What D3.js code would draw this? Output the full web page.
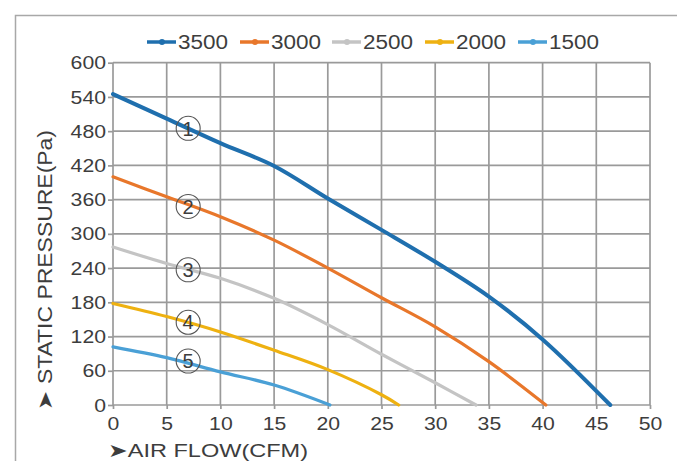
<!DOCTYPE html>
<html><head><meta charset="utf-8">
<script src="https://cdn.jsdelivr.net/npm/d3@7"></script>
<style>
html,body{margin:0;padding:0;background:#fff;}
svg{display:block;}
text{font-family:"Liberation Sans",Arial,sans-serif;fill:#3d3d3d;}
</style></head>
<body>
<svg id="c" width="677" height="461"></svg>
<script>
// ---- data ----
const seriesNames = ["3500","3000","2500","2000","1500"];
const flow3500 = [0,5,10,15,20,25,30,35,40,46.3];
const p3500    = [545,502,459,419,362,307,251,190,115,0];
const flow3000 = [0,5,10,15,20,25,30,35,40.3];
const p3000    = [400,365,330,289,240,188,137,76,0];
const flow2500 = [0,5,10,15,20,25,30,33.8];
const p2500    = [277,248,222,187,141,89,39,0];
const flow2000 = [0,5,10,15,20,25,26.6];
const p2000    = [178,155,128,96,62,18,0];
const flow1500 = [0,5,10,15,20.2];
const p1500    = [102,83,58,35,0];
const xTicks = [0,5,10,15,20,25,30,35,40,45,50];
const yTicks = [0,60,120,180,240,300,360,420,480,540,600];
const markerLabels = ["1","2","3","4","5"];
const markerFlow = [7,7,7,7,7];
const markerPress = [485,348,237,145,77];
const xTitle = "➤AIR FLOW(CFM)";
const yTitle = "➤ STATIC PRESSURE(Pa)";

const colors = ["#1f6fae","#e8772b","#c4c4c4","#eeb111","#4aa0d6"];
const widths = [4,3.2,3.2,3.2,3.2];
const flows = [flow3500,flow3000,flow2500,flow2000,flow1500];
const press = [p3500,p3000,p2500,p2000,p1500];
const series = seriesNames.map((n,i)=>({name:n,color:colors[i],w:widths[i],
  pts:flows[i].map((f,j)=>({x:f,y:press[i][j]}))}));

const svg = d3.select("#c");
const x = d3.scaleLinear().domain([0,50]).range([113,650]);
const y = d3.scaleLinear().domain([0,600]).range([405,62.7]);

// outer frame (left + top)
svg.append("path").attr("d","M15.5,461 V15.5 H677")
  .attr("fill","none").attr("stroke","#a8a8a8").attr("stroke-width",1.5);

// grid
const g = svg.append("g");
g.selectAll(".vg").data(xTicks).join("line")
  .attr("x1",d=>x(d)).attr("x2",d=>x(d)).attr("y1",y(0)).attr("y2",y(600))
  .attr("stroke","#9a9a9a").attr("stroke-width",1.7);
g.selectAll(".hg").data(yTicks).join("line")
  .attr("x1",x(0)).attr("x2",x(50)).attr("y1",d=>y(d)).attr("y2",d=>y(d))
  .attr("stroke","#9a9a9a").attr("stroke-width",1.7);

// axes
const xa = svg.append("g").attr("transform",`translate(0,${y(0)})`)
  .call(d3.axisBottom(x).tickValues(xTicks).tickSize(4).tickPadding(3));
const ya = svg.append("g").attr("transform",`translate(${x(0)},0)`)
  .call(d3.axisLeft(y).tickValues(yTicks).tickSize(5).tickPadding(2));
[xa,ya].forEach(a=>{
  a.select(".domain").remove();
  a.selectAll(".tick line").attr("stroke","#9a9a9a").attr("stroke-width",1.7);
  a.selectAll(".tick text").style("font-size","19px").attr("fill","#3d3d3d")
    .attr("font-family","Liberation Sans, Arial, sans-serif")
    .attr("textLength",function(){return this.textContent.length*11.8;})
    .attr("lengthAdjust","spacingAndGlyphs");
});
xa.selectAll(".tick text").attr("dy","0.95em");

// curves
const line = d3.line().x(d=>x(d.x)).y(d=>y(d.y)).curve(d3.curveCatmullRom.alpha(0.5));
svg.append("g").selectAll("path").data(series).join("path")
  .attr("d",d=>line(d.pts)).attr("fill","none")
  .attr("stroke",d=>d.color).attr("stroke-width",d=>d.w)
  .attr("stroke-linecap","round");

// circled markers
const mk = svg.append("g").selectAll("g").data(markerLabels).join("g")
  .attr("transform",(d,i)=>`translate(${x(markerFlow[i])},${y(markerPress[i])})`);
mk.append("circle").attr("r",12).attr("fill","none")
  .attr("stroke","#555").attr("stroke-width",1.1);
mk.append("text").text(d=>d).attr("text-anchor","middle").attr("dy","0.36em")
  .style("font-size","20px").attr("fill","#2e2e2e");

// legend
const legX = [147,240,332,425,518];
const lg = svg.append("g").selectAll("g").data(series).join("g")
  .attr("transform",(d,i)=>`translate(${legX[i]},42)`);
lg.append("line").attr("x1",0).attr("x2",29).attr("stroke",d=>d.color).attr("stroke-width",3.5);
lg.append("circle").attr("cx",15).attr("r",3).attr("fill",d=>d.color);
lg.append("text").text(d=>d.name).attr("x",31).attr("dy","0.36em")
  .style("font-size","20px").attr("textLength",50).attr("lengthAdjust","spacingAndGlyphs");

// axis titles
svg.append("text").text(xTitle).attr("x",108).attr("y",450).attr("dy","0.36em")
  .style("font-size","19px").attr("textLength",200).attr("lengthAdjust","spacingAndGlyphs");
svg.append("text").text(yTitle).attr("transform","translate(45,410) rotate(-90)")
  .attr("dy","0.36em").style("font-size","20px")
  .attr("textLength",280).attr("lengthAdjust","spacingAndGlyphs");
</script>
</body></html>
